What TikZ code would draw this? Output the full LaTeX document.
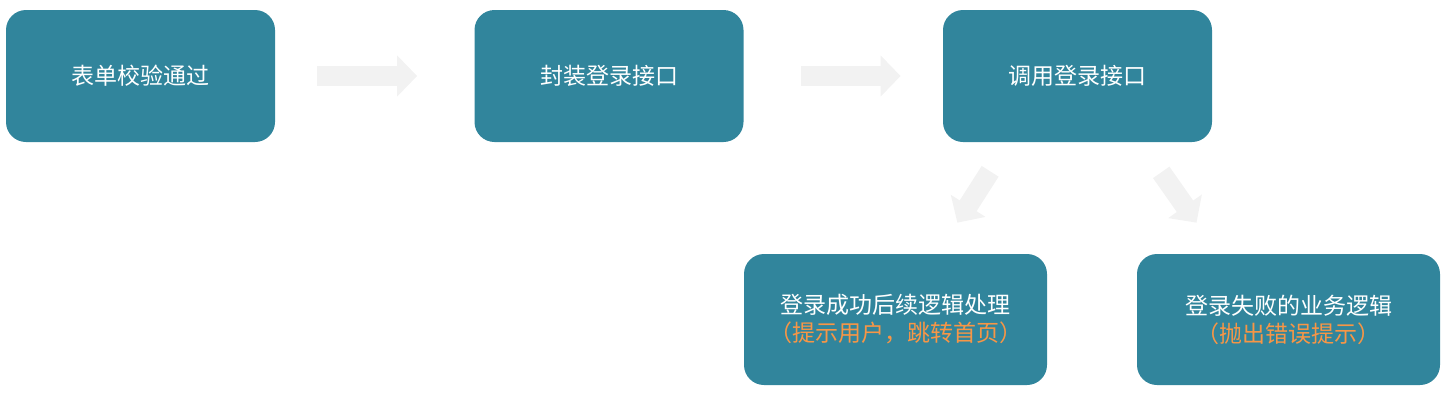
\documentclass[tikz,border=0pt]{standalone}
\usepackage{fontspec}
\newfontfamily\cjk{Noto Sans CJK SC}
\usetikzlibrary{arrows.meta}
\definecolor{boxteal}{HTML}{31859C}
\definecolor{noteorange}{HTML}{F79646}
\definecolor{arrowgray}{HTML}{F2F2F2}

\begin{document}
\begin{tikzpicture}[x=0.5pt,y=-0.5pt,
  stepbox/.style={rectangle,rounded corners=10pt,fill=boxteal,text=white,
    minimum width=134.5pt,minimum height=66pt,inner sep=0pt,align=center,
    font=\cjk\fontsize{11.5}{14}\selectfont},
  widebox/.style={stepbox,minimum width=151.5pt,minimum height=65.5pt},
  flow/.style={draw=arrowgray,line width=10pt,-{Triangle[length=10pt,width=20pt]}}]
\useasboundingbox (0,0) rectangle (1450,408);

\node [stepbox] (check) at (140.5,76) {表单校验通过};
\node [stepbox] (wrap) at (609,76) {封装登录接口};
\node [stepbox] (call) at (1077.5,76) {调用登录接口};
\node [widebox] (ok) at (895.5,319.5) {登录成功后续逻辑处理\\{\color{noteorange}（提示用户，跳转首页）}};
\node [widebox] (fail) at (1288.5,319.5) {登录失败的业务逻辑\\{\color{noteorange}（抛出错误提示）}};

\draw [flow,shorten <=21pt,shorten >=28.5pt] (check) -- (wrap);
\draw [flow,shorten <=28.5pt,shorten >=21pt] (wrap) -- (call);
\draw [flow,shorten <=17.15pt,shorten >=18.35pt] ([xshift=33pt]call.south west) -- ([xshift=97pt]ok.north west);
\draw [flow,shorten <=18.3pt,shorten >=18.9pt] ([xshift=98.8pt]call.south west) -- ([xshift=40.8pt]fail.north west);
\end{tikzpicture}
\end{document}
